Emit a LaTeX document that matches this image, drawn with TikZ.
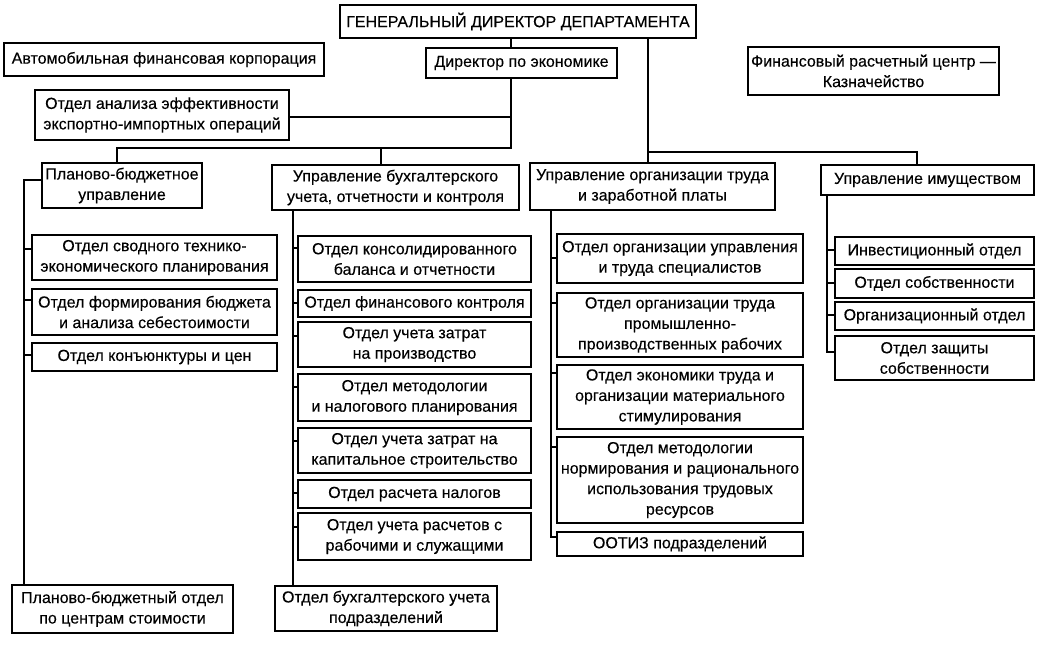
\documentclass[tikz,border=0pt]{standalone}
\usepackage{fontspec}
\setmainfont{Liberation Sans}[FakeBold=0.25]
\newcommand\orgbox[6]{%
  \pgfmathsetmacro\bcx{(#2+#4)/2}\pgfmathsetmacro\bcy{(#3+#5)/2}%
  \pgfmathsetmacro\bw{#4-#2}\pgfmathsetmacro\bh{#5-#3}%
  \node[box,minimum width=\bw pt,minimum height=\bh pt] (#1) at (\bcx,\bcy) {#6};}
\begin{document}
\begin{tikzpicture}[x=1pt,y=-1pt,
  box/.style={draw,line width=1.6pt,inner sep=0pt,align=center,
    font=\fontsize{16}{20.5}\selectfont},
  link/.style={line width=1.4pt}]
\useasboundingbox (0,0) rectangle (1041,645);
% top level
\orgbox{gen}{340}{5}{696}{38}{ГЕНЕРАЛЬНЫЙ ДИРЕКТОР ДЕПАРТАМЕНТА}
\orgbox{auto}{4}{43}{324}{76}{Автомобильная финансовая корпорация}
\orgbox{dir}{426}{48}{617}{78}{Директор по экономике}
\orgbox{fin}{748}{47}{999}{95}{Финансовый расчетный центр —\\Казначейство}
\orgbox{analiza}{35}{90}{289}{140}{Отдел анализа эффективности\\экспортно-импортных операций}
% second level
\orgbox{plan}{42}{163}{202}{208}{Планово-бюджетное\\управление}
\orgbox{bukh}{272}{165}{519}{210}{Управление бухгалтерского\\учета, отчетности и контроля}
\orgbox{truda}{530}{163}{775}{210}{Управление организации труда\\и заработной платы}
\orgbox{imush}{821}{165}{1034}{195}{Управление имуществом}
% planning column
\orgbox{ps1}{32}{235}{277}{280}{Отдел сводного технико-\\экономического планирования}
\orgbox{ps2}{32}{289}{277}{335}{Отдел формирования бюджета\\и анализа себестоимости}
\orgbox{ps3}{32}{343}{277}{371}{Отдел конъюнктуры и цен}
\orgbox{planbot}{12}{585}{233}{633}{Планово-бюджетный отдел\\по центрам стоимости}
% accounting column
\orgbox{bs1}{298}{236}{531}{282}{Отдел консолидированного\\баланса и отчетности}
\orgbox{bs2}{298}{290}{531}{317}{Отдел финансового контроля}
\orgbox{bs3}{298}{322}{531}{367}{Отдел учета затрат\\на производство}
\orgbox{bs4}{298}{374}{531}{421}{Отдел методологии\\и налогового планирования}
\orgbox{bs5}{298}{428}{531}{473}{Отдел учета затрат на\\капитальное строительство}
\orgbox{bs6}{298}{480}{531}{508}{Отдел расчета налогов}
\orgbox{bs7}{298}{513}{531}{560}{Отдел учета расчетов с\\рабочими и служащими}
\orgbox{bukhbot}{275}{586}{497}{631}{Отдел бухгалтерского учета\\подразделений}
% labour column
\orgbox{ts1}{557}{234}{803}{283}{Отдел организации управления\\и труда специалистов}
\orgbox{ts2}{557}{293}{803}{357}{Отдел организации труда\\промышленно-\\производственных рабочих}
\orgbox{ts3}{557}{365}{803}{429}{Отдел экономики труда и\\организации материального\\стимулирования}
\orgbox{ts4}{557}{437}{803}{523}{Отдел методологии\\нормирования и рационального\\использования трудовых\\ресурсов}
\orgbox{ts5}{557}{532}{803}{556}{ООТИЗ подразделений}
% property column
\orgbox{is1}{835}{237}{1034}{265}{Инвестиционный отдел}
\orgbox{is2}{835}{269}{1034}{298}{Отдел собственности}
\orgbox{is3}{835}{302}{1034}{330}{Организационный отдел}
\orgbox{is4}{835}{336}{1034}{380}{Отдел защиты\\собственности}
% bus coordinates
\coordinate (eX) at (511,148);
\coordinate (busL) at (117,148);
\coordinate (busB) at (381,148);
\coordinate (gX) at (648,152);
\coordinate (busR) at (917,152);
% top connectors
\draw[link] (gen.south -| eX) -- (dir.north -| eX);
\draw[link] (dir.south -| eX) -- (eX) -- (busL) -- (plan.north -| busL);
\draw[link] (busB) -- (bukh.north -| busB);
\draw[link] (analiza.east |- 0,117) -- (eX |- 0,117);
\draw[link] (gen.south -| gX) -- (truda.north -| gX);
\draw[link] (gX) -- (busR) -- (imush.north -| busR);
% planning trunk
\coordinate (pT) at (24,180);
\draw[link] (plan.west |- pT) -- (pT) -- (planbot.north -| pT);
\draw[link] (pT |- 0,249) -- (ps1.west |- 0,249);
\draw[link] (pT |- 0,300) -- (ps2.west |- 0,300);
\draw[link] (pT |- 0,355) -- (ps3.west |- 0,355);
% accounting trunk
\coordinate (bT) at (293,210);
\draw[link] (bukh.south -| bT) -- (bukhbot.north -| bT);
\draw[link] (bT |- 0,248) -- (bs1.west |- 0,248);
\draw[link] (bT |- 0,303) -- (bs2.west |- 0,303);
\draw[link] (bT |- 0,336) -- (bs3.west |- 0,336);
\draw[link] (bT |- 0,387) -- (bs4.west |- 0,387);
\draw[link] (bT |- 0,441) -- (bs5.west |- 0,441);
\draw[link] (bT |- 0,493) -- (bs6.west |- 0,493);
\draw[link] (bT |- 0,527) -- (bs7.west |- 0,527);
% labour trunk
\coordinate (tT) at (551,210);
\draw[link] (truda.south -| tT) -- (tT |- 0,537) -- (ts5.west |- 0,537);
\draw[link] (tT |- 0,258) -- (ts1.west |- 0,258);
\draw[link] (tT |- 0,303) -- (ts2.west |- 0,303);
\draw[link] (tT |- 0,373) -- (ts3.west |- 0,373);
\draw[link] (tT |- 0,447) -- (ts4.west |- 0,447);
% property trunk
\coordinate (iT) at (827,195);
\draw[link] (imush.south -| iT) -- (iT |- 0,352) -- (is4.west |- 0,352);
\draw[link] (iT |- 0,250) -- (is1.west |- 0,250);
\draw[link] (iT |- 0,283) -- (is2.west |- 0,283);
\draw[link] (iT |- 0,315) -- (is3.west |- 0,315);
\end{tikzpicture}
\end{document}
